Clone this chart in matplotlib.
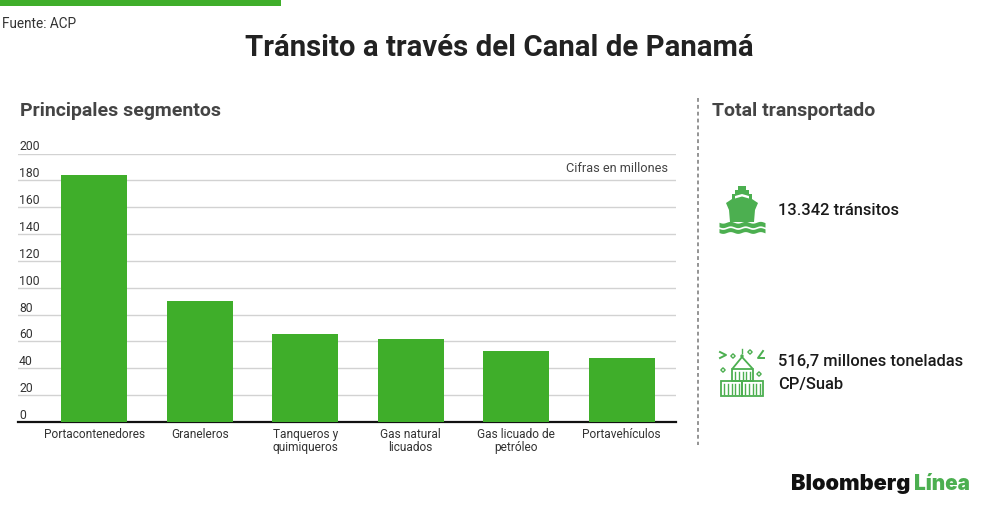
import matplotlib
matplotlib.use('Agg')
import matplotlib.pyplot as plt
from matplotlib.patches import Rectangle, Polygon, Circle
from matplotlib.lines import Line2D
import numpy as np

categories = ['Portacontenedores', 'Graneleros', 'Tanqueros y\nquimiqueros',
              'Gas natural\nlicuados', 'Gas licuado de\npetróleo', 'Portavehículos']
values = [184, 90, 65.5, 62, 53, 47.5]
yticks = list(range(0, 201, 20))

GREEN = '#3fae2a'
ICON = '#4caf50'
DARK = '#222222'
plt.rcParams['font.family'] = ['Roboto', 'DejaVu Sans']

W, H = 1000, 512
fig = plt.figure(figsize=(W / 100, H / 100), dpi=100, facecolor='white')

# overlay in pixel coordinates
ov = fig.add_axes([0, 0, 1, 1])
ov.set_xlim(0, W); ov.set_ylim(H, 0); ov.axis('off')

# chart axes
L, R, T, B = 18, 676, 153.5, 422
ax = fig.add_axes([L / W, 1 - B / H, (R - L) / W, (B - T) / H])
ax.set_facecolor('none')
ax.bar(range(len(values)), values, width=0.625, color=GREEN, zorder=3)
ax.set_xlim(-0.722, 5.515)
ax.set_ylim(0, 200)
ax.set_yticks(yticks)
ax.set_yticklabels([])
ax.grid(axis='y', color='#d2d2d2', lw=1, zorder=0)
ax.set_axisbelow(True)
ax.tick_params(axis='both', length=0)
for s in ['top', 'left', 'right']:
    ax.spines[s].set_visible(False)
ax.spines['bottom'].set_color('#111111')
ax.spines['bottom'].set_linewidth(1.6)
ax.set_xticks(range(len(categories)))
ax.set_xticklabels(categories, fontsize=8.6, color='#333333', linespacing=1.08, va='top')
ax.tick_params(axis='x', pad=4)
for v in yticks:
    ax.annotate(str(v), xy=(0, v), xycoords=('axes fraction', 'data'), xytext=(1, 6.5),
                textcoords='offset pixels', fontsize=8.8, color='#333333', ha='left', va='center')
ax.text(0.988, 0.945, 'Cifras en millones', transform=ax.transAxes, fontsize=9.15,
        color='#444444', ha='right', va='center')

# header
ov.add_patch(Rectangle((0, 0), 281, 6, color=GREEN, lw=0))
ov.text(2, 23.5, 'Fuente: ACP', fontsize=9.8, color='#333333', va='center')
ov.text(499, 48, 'Tránsito a través del Canal de Panamá', fontsize=21.2, fontweight='bold',
        color=DARK, ha='center', va='center')
ov.text(20, 111.5, 'Principales segmentos', fontsize=14, fontweight='bold', color='#444444', va='center')
ov.text(712, 111.5, 'Total transportado', fontsize=14, fontweight='bold', color='#444444', va='center')
ov.add_line(Line2D([698, 698], [98, 445], color='#777777', lw=1.1, ls=(0, (2.5, 2))))

# right-hand facts
ov.text(778, 210.5, '13.342 tránsitos', fontsize=11.8, fontweight='medium', color='#1a1a1a', va='center')
ov.text(778, 360.5, '516,7 millones toneladas', fontsize=11.85, fontweight='medium', color='#1a1a1a', va='center')
ov.text(778, 385, 'CP/Suab', fontsize=11.85, fontweight='medium', color='#1a1a1a', va='center')

# ship icon
ov.add_patch(Polygon([(738, 186), (746, 186), (746, 190), (749, 190), (749, 194), (752, 194),
                      (752, 199), (758, 203), (755, 210), (754, 222), (730, 222), (729, 210),
                      (726, 203), (732, 199), (732, 194), (735, 194), (735, 190), (738, 190)],
                     color=ICON, lw=0))
ov.add_patch(Polygon([(735, 196), (742, 194), (749, 196), (749, 198.5), (742, 196.5), (735, 198.5)],
                     color='white', lw=0))
xs = np.arange(719, 765.5, 0.5)
for base, thick in [(224.5, 4.5), (230.5, 4)]:
    wave = base + 0.9 * np.sin((xs - 719) * 2 * np.pi / 15)
    ov.fill_between(xs, wave - thick / 2, wave + thick / 2, color=ICON, lw=0)

# container icon
def box(x, y, w, h, n):
    ov.add_patch(Rectangle((x, y), w, h, fill=False, ec=ICON, lw=1.3))
    for xi in np.linspace(x + 3, x + w - 3, n):
        ov.add_line(Line2D([xi, xi], [y + 2.5, y + h - 2.5], color=ICON, lw=1.0))
box(721, 381, 21, 15, 5)
box(742, 381, 21, 15, 5)
box(732, 369, 21, 12, 5)
ov.add_line(Line2D([733, 742, 752], [368, 357, 368], color=ICON, lw=1.3))
ov.add_patch(Circle((742, 356), 1.7, color=ICON, lw=0))
ov.add_line(Line2D([742, 742], [349, 353], color=ICON, lw=1.0))
ov.add_line(Line2D([720, 726, 720], [352, 355, 358], color=ICON, lw=1.4))
ov.add_line(Line2D([763, 758, 764], [351, 358, 358], color=ICON, lw=1.4))
for x, y in [(733, 356), (750, 352), (723, 370), (759, 374)]:
    ov.add_patch(Polygon([(x, y - 2.2), (x + 2.2, y), (x, y + 2.2), (x - 2.2, y)],
                         fill=False, ec=ICON, lw=1.0))

# logo
ov.text(791, 483.5, 'Bloomberg', fontsize=15.7, fontweight='black', family=['Inter', 'DejaVu Sans'],
        color='#111111', va='center')
ov.text(914, 483.5, 'Línea', fontsize=14.9, fontweight='black', family=['Inter', 'DejaVu Sans'],
        color=ICON, va='center')

fig.savefig('out.png', dpi=100, facecolor='white')
